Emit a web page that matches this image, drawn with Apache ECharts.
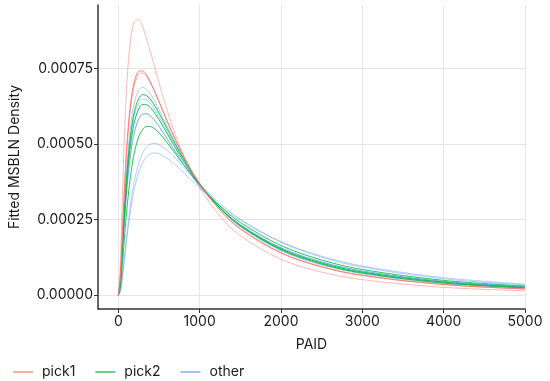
<!DOCTYPE html>
<html><head><meta charset="utf-8">
<script src="https://cdn.jsdelivr.net/npm/echarts@6/dist/echarts.min.js"></script>
<style>html,body{margin:0;padding:0;background:#fff}#c{width:550px;height:381px}</style>
</head><body><div id="c"></div>
<script>
const xs = [0,25,50,75,100,125,150,175,200,250,300,350,400,450,500,600,700,800,1000,1250,1500,2000,2500,3000,4000,5000];
const xTicks = [0,1000,2000,3000,4000,5000];
const yTicks = [0,0.00025,0.0005,0.00075];
const groups = ['pick1','pick2','other'];

const pick1_a = [0,0.0001065,0.0003306,0.0005285,0.0006755,0.0007774,0.0008444,0.0008851,0.0009067,0.0009118,0.0008868,0.0008467,0.0008000,0.0007512,0.0007028,0.0006121,0.0005324,0.0004640,0.0003561,0.0002616,0.0001969,0.0001186,0.0000761,0.0000513,0.0000260,0.0000146];
const pick1_b = [0,0.0000622,0.0002116,0.0003577,0.0004765,0.0005669,0.0006328,0.0006794,0.0007107,0.0007404,0.0007419,0.0007266,0.0007022,0.0006726,0.0006407,0.0005760,0.0005148,0.0004595,0.0003672,0.0002812,0.0002191,0.0001394,0.0000935,0.0000654,0.0000351,0.0000206];
const pick1_c = [0,0.0000577,0.0002008,0.0003434,0.0004611,0.0005516,0.0006184,0.0006662,0.0006988,0.0007313,0.0007350,0.0007218,0.0006989,0.0006705,0.0006397,0.0005764,0.0005161,0.0004612,0.0003693,0.0002832,0.0002208,0.0001407,0.0000944,0.0000660,0.0000354,0.0000207];
const other_d = [0,0.0000487,0.0001736,0.0003017,0.0004099,0.0004949,0.0005595,0.0006069,0.0006406,0.0006777,0.0006874,0.0006804,0.0006634,0.0006405,0.0006146,0.0005593,0.0005052,0.0004550,0.0003692,0.0002870,0.0002264,0.0001469,0.0001000,0.0000708,0.0000387,0.0000231];
const pick2_e = [0,0.0000436,0.0001588,0.0002793,0.0003827,0.0004653,0.0005288,0.0005763,0.0006107,0.0006505,0.0006633,0.0006596,0.0006458,0.0006257,0.0006023,0.0005511,0.0005001,0.0004522,0.0003694,0.0002891,0.0002293,0.0001501,0.0001029,0.0000732,0.0000404,0.0000242];
const other_f = [0,0.0000448,0.0001592,0.0002772,0.0003779,0.0004580,0.0005194,0.0005653,0.0005984,0.0006368,0.0006493,0.0006459,0.0006326,0.0006133,0.0005909,0.0005417,0.0004925,0.0004462,0.0003660,0.0002878,0.0002292,0.0001512,0.0001044,0.0000748,0.0000417,0.0000253];
const pick2_g = [0,0.0000410,0.0001482,0.0002606,0.0003577,0.0004357,0.0004962,0.0005421,0.0005757,0.0006158,0.0006306,0.0006296,0.0006186,0.0006015,0.0005808,0.0005348,0.0004880,0.0004435,0.0003657,0.0002891,0.0002312,0.0001536,0.0001066,0.0000767,0.0000431,0.0000262];
const other_h = [0,0.0000384,0.0001382,0.0002428,0.0003337,0.0004074,0.0004650,0.0005091,0.0005419,0.0005821,0.0005986,0.0005999,0.0005916,0.0005772,0.0005592,0.0005180,0.0004753,0.0004342,0.0003612,0.0002883,0.0002327,0.0001568,0.0001102,0.0000801,0.0000458,0.0000283];
const pick2_i = [0,0.0000250,0.0001008,0.0001883,0.0002692,0.0003382,0.0003949,0.0004403,0.0004759,0.0005238,0.0005487,0.0005581,0.0005573,0.0005494,0.0005371,0.0005049,0.0004687,0.0004323,0.0003649,0.0002951,0.0002404,0.0001642,0.0001163,0.0000850,0.0000489,0.0000304];
const other_j = [0,0.0000123,0.0000599,0.0001233,0.0001879,0.0002475,0.0002997,0.0003443,0.0003814,0.0004366,0.0004714,0.0004914,0.0005006,0.0005020,0.0004979,0.0004795,0.0004537,0.0004249,0.0003674,0.0003036,0.0002513,0.0001753,0.0001259,0.0000929,0.0000541,0.0000338];
const other_k = [0,0.0000125,0.0000580,0.0001172,0.0001769,0.0002318,0.0002798,0.0003208,0.0003550,0.0004063,0.0004393,0.0004586,0.0004683,0.0004707,0.0004682,0.0004532,0.0004311,0.0004059,0.0003546,0.0002965,0.0002481,0.0001765,0.0001290,0.0000966,0.0000578,0.0000369];

const colors = {pick1:'#F8766D', pick2:'#00BA38', other:'#619CFF'};
const FONT = 'Inter';
const TXT = '#1a1a1a';

function mk(name, vals, op){
  return {
    type:'line', name:name, showSymbol:false, symbol:'none', smooth:0.35,
    data: xs.map((x,i)=>[x, vals[i]]),
    lineStyle:{color:colors[name], width:1, opacity:op},
    itemStyle:{color:colors[name]},
    silent:true, animation:false, z:2
  };
}

const series = [
  mk('pick1', pick1_a, 0.5),
  mk('other', other_k, 0.5),
  mk('other', other_j, 0.5),
  mk('other', other_d, 0.5),
  mk('other', other_f, 0.5),
  mk('pick2', pick2_i, 0.85),
  mk('other', other_h, 0.9),
  mk('pick2', pick2_g, 0.9),
  mk('pick2', pick2_e, 0.9),
  mk('pick1', pick1_c, 0.6),
  mk('pick1', pick1_b, 0.9)
];

const chart = echarts.init(document.getElementById('c'), null, {renderer:'canvas'});
chart.setOption({
  animation:false,
  backgroundColor:'#ffffff',
  textStyle:{fontFamily:FONT},
  grid:{left:96, right:25, top:5, bottom:72, containLabel:false},
  legend:{
    data: groups.map(g=>({name:g, icon:'rect', itemStyle:{color:colors[g], opacity:0.8}})),
    left:8, top:360, itemWidth:20, itemHeight:1.5, itemGap:20,
    textStyle:{fontFamily:FONT, fontSize:14, color:TXT, padding:[0,0,0,4]},
    selectedMode:false
  },
  xAxis:{
    type:'value', min:-250, max:5000,
    name:'PAID', nameLocation:'middle', nameGap:29,
    nameTextStyle:{fontFamily:FONT, fontSize:14, color:TXT},
    axisLine:{show:true, onZero:false, lineStyle:{color:'#333', width:1.5}},
    axisTick:{show:true, length:4, customValues:xTicks, lineStyle:{color:'#333', width:1}},
    axisLabel:{customValues:xTicks, fontFamily:FONT, fontSize:14, color:TXT, margin:6,
      formatter:v=>String(v)},
    splitLine:{show:true, lineStyle:{color:'#e5e5e5', width:1}}
  },
  yAxis:{
    type:'value', min:-0.0000457, max:0.00096,
    name:'Fitted MSBLN Density', nameLocation:'middle', nameGap:76, nameRotate:90,
    nameTextStyle:{fontFamily:FONT, fontSize:14, color:TXT},
    axisLine:{show:true, onZero:false, lineStyle:{color:'#333', width:1.5}},
    axisTick:{show:true, length:4, customValues:yTicks, lineStyle:{color:'#333', width:1}},
    axisLabel:{customValues:yTicks, fontFamily:FONT, fontSize:14, color:TXT, margin:5,
      formatter:v=>v.toFixed(5)},
    splitLine:{show:true, lineStyle:{color:'#e5e5e5', width:1}}
  },
  series: series
});
</script></body></html>
